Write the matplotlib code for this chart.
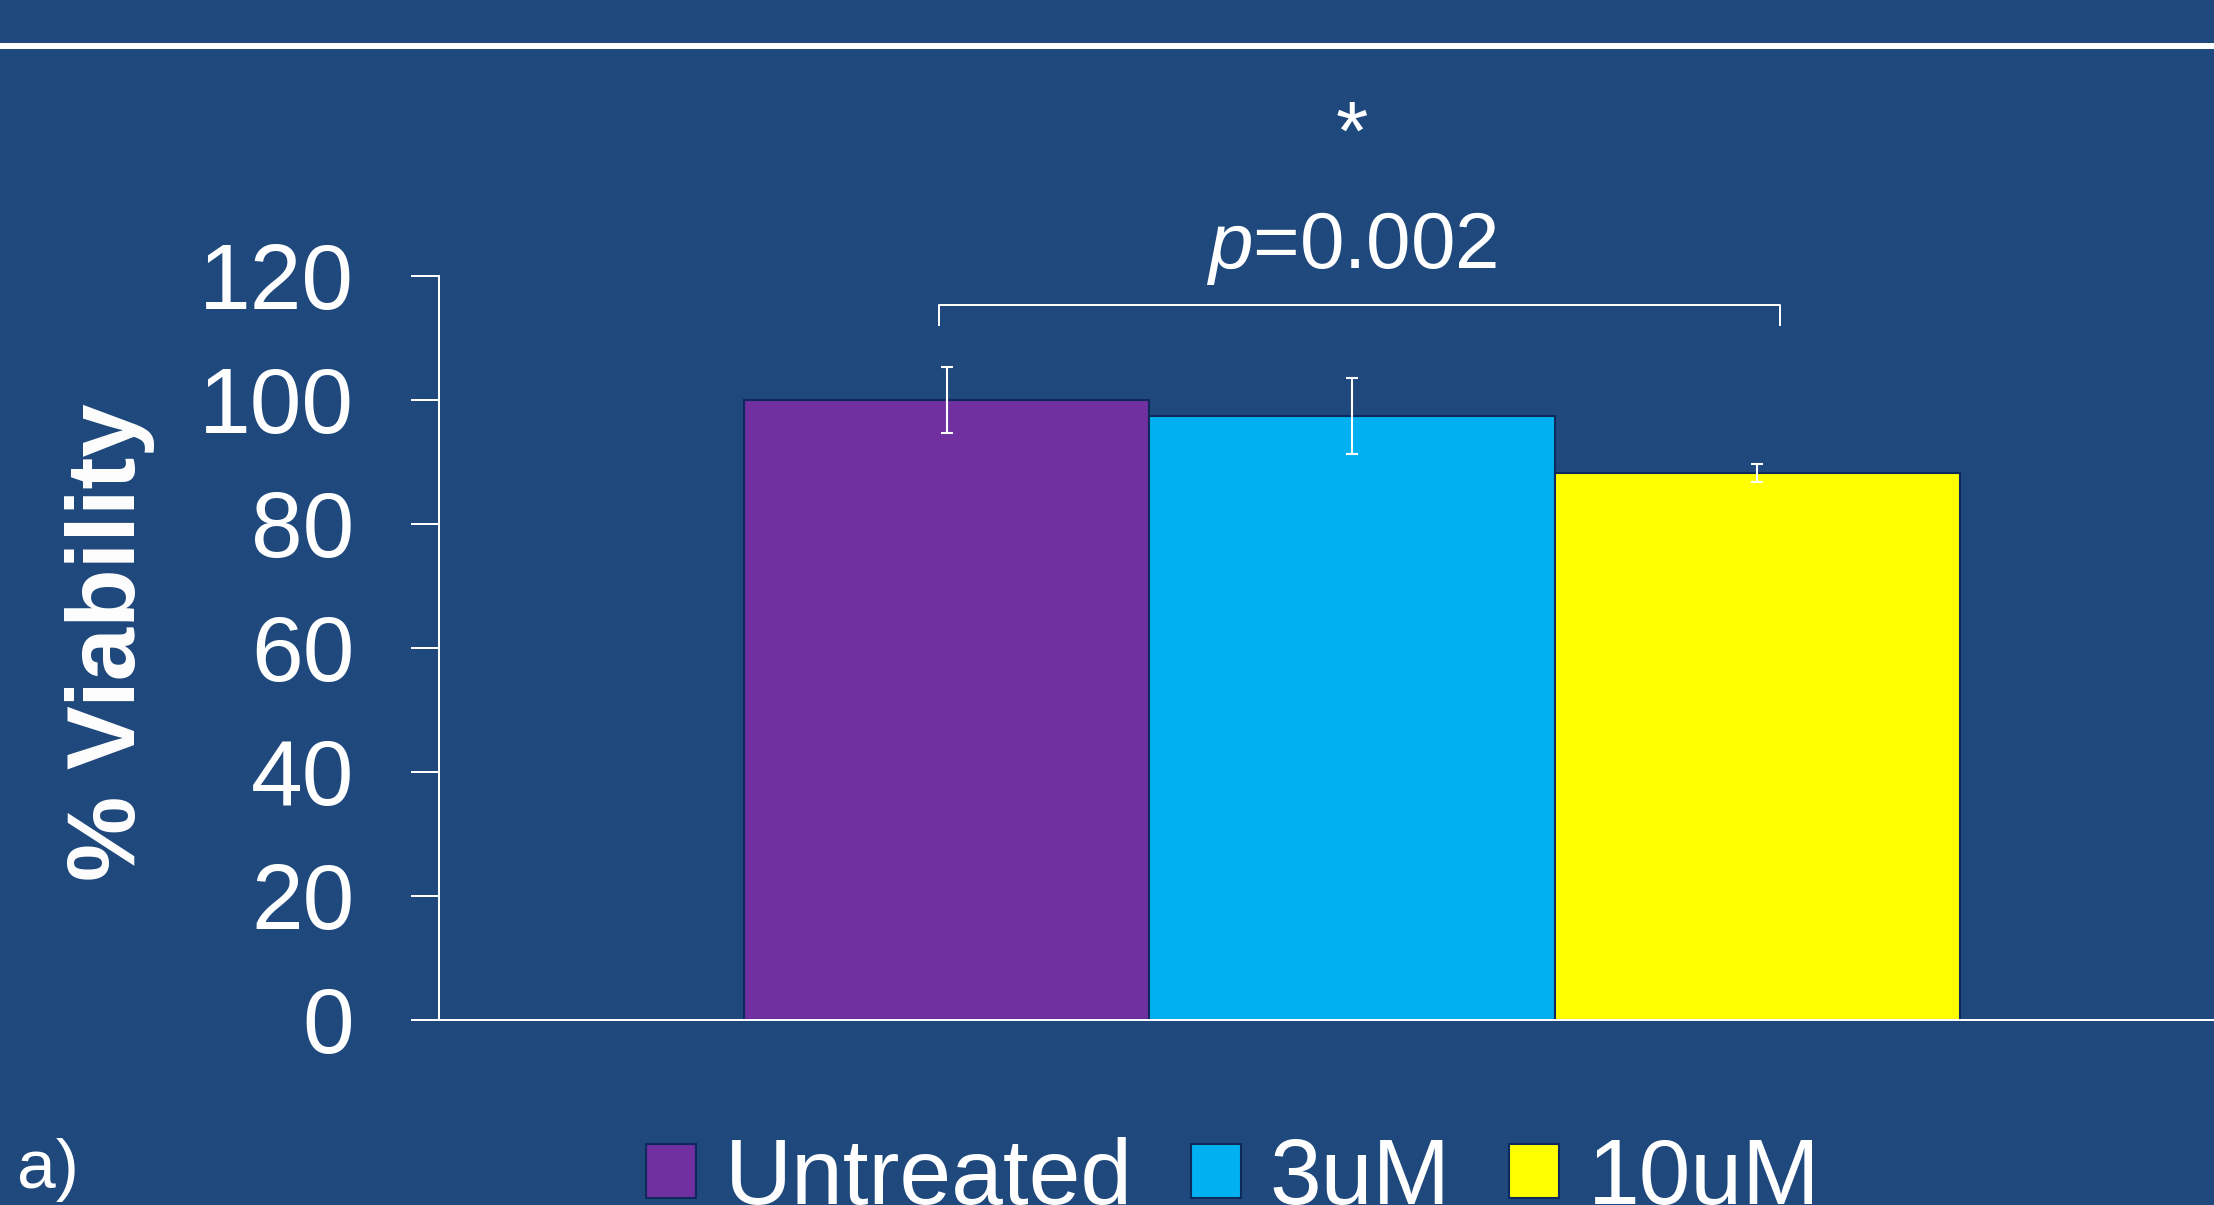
import matplotlib
matplotlib.use("Agg")
import matplotlib.pyplot as plt
from matplotlib.lines import Line2D

# ---- data ----
categories = ["Untreated", "3uM", "10uM"]
viability = [100.0, 97.4, 88.2]
errors = [5.3, 6.1, 1.5]
yticks = [0, 20, 40, 60, 80, 100, 120]
p_label = "0.002"

bar_colors = ["#7030A0", "#00B0F0", "#FFFF00"]
bg = "#1F497D"
edge = "#0E2A5C"

plt.rcParams["font.family"] = ["Liberation Sans", "DejaVu Sans"]
plt.rcParams["mathtext.fontset"] = "custom"
plt.rcParams["mathtext.it"] = "Liberation Sans:italic"
plt.rcParams["mathtext.rm"] = "Liberation Sans"

W, H = 2214, 1205
fig = plt.figure(figsize=(W / 100, H / 100), dpi=100, facecolor=bg)

ax = fig.add_axes([439 / W, 1 - 1020 / H, 1826 / W, (1020 - 276) / H])
ax.set_facecolor(bg)

x = list(range(len(categories)))
handles = []
for i, (c, v, col) in enumerate(zip(categories, viability, bar_colors)):
    b = ax.bar(i, v, width=1.0, color=col, edgecolor=edge, linewidth=1.5,
               label=c, zorder=2)
    handles.append(b)
ax.errorbar(x, viability, yerr=errors, fmt="none", ecolor="white",
            elinewidth=1.5, capsize=4, capthick=1.5, zorder=3)

ax.set_xlim(-1.253, 3.253)
ax.set_ylim(0, 120)
ax.set_yticks(yticks)
ax.set_yticklabels([str(t) for t in yticks])
ax.set_xticks([])
ax.tick_params(axis="y", colors="white", labelcolor="white", labelsize=67,
               length=20, width=1.44, pad=41, direction="out")
for s in ["top", "right"]:
    ax.spines[s].set_visible(False)
for s in ["left", "bottom"]:
    ax.spines[s].set_color("white")
    ax.spines[s].set_linewidth(1.44)

# significance bracket
x0 = x[0] - 0.02
x1 = x[2] + 0.056
ax.plot([x0, x0, x1, x1], [112.1, 115.3, 115.3, 112.1], color="white",
        lw=1.44, clip_on=False, solid_joinstyle="round")
ax.text(x[1], 121.3, r"$\mathit{p}$=" + p_label, ha="center", va="baseline",
        fontsize=57.6, color="white")
ax.text(x[1], 138.8, "*", ha="center", va="baseline", fontsize=60,
        color="white")

# y label
fig.text(110 / W, 1 - 642 / H, "% Viability", rotation=90, fontsize=69,
         fontweight="bold", color="white", ha="center", va="center")

# panel label
fig.text(17 / W, 1 - 1188 / H, "a)", fontsize=50, color="white",
         ha="left", va="baseline")

# top rule
fig.add_artist(Line2D([0, 1], [1 - 46 / H, 1 - 46 / H], transform=fig.transFigure,
                      color="white", lw=4.3))

leg = fig.legend(handles=handles, labels=categories, loc="upper left",
                 bbox_to_anchor=(646 / W, 1 - 1137 / H), ncol=3, frameon=False,
                 fontsize=67, handlelength=0.54, handleheight=0.53,
                 handletextpad=0.31, columnspacing=0.62, borderpad=0,
                 borderaxespad=0)
for t in leg.get_texts():
    t.set_color("white")

fig.savefig("out.png", dpi=100, facecolor=bg)
